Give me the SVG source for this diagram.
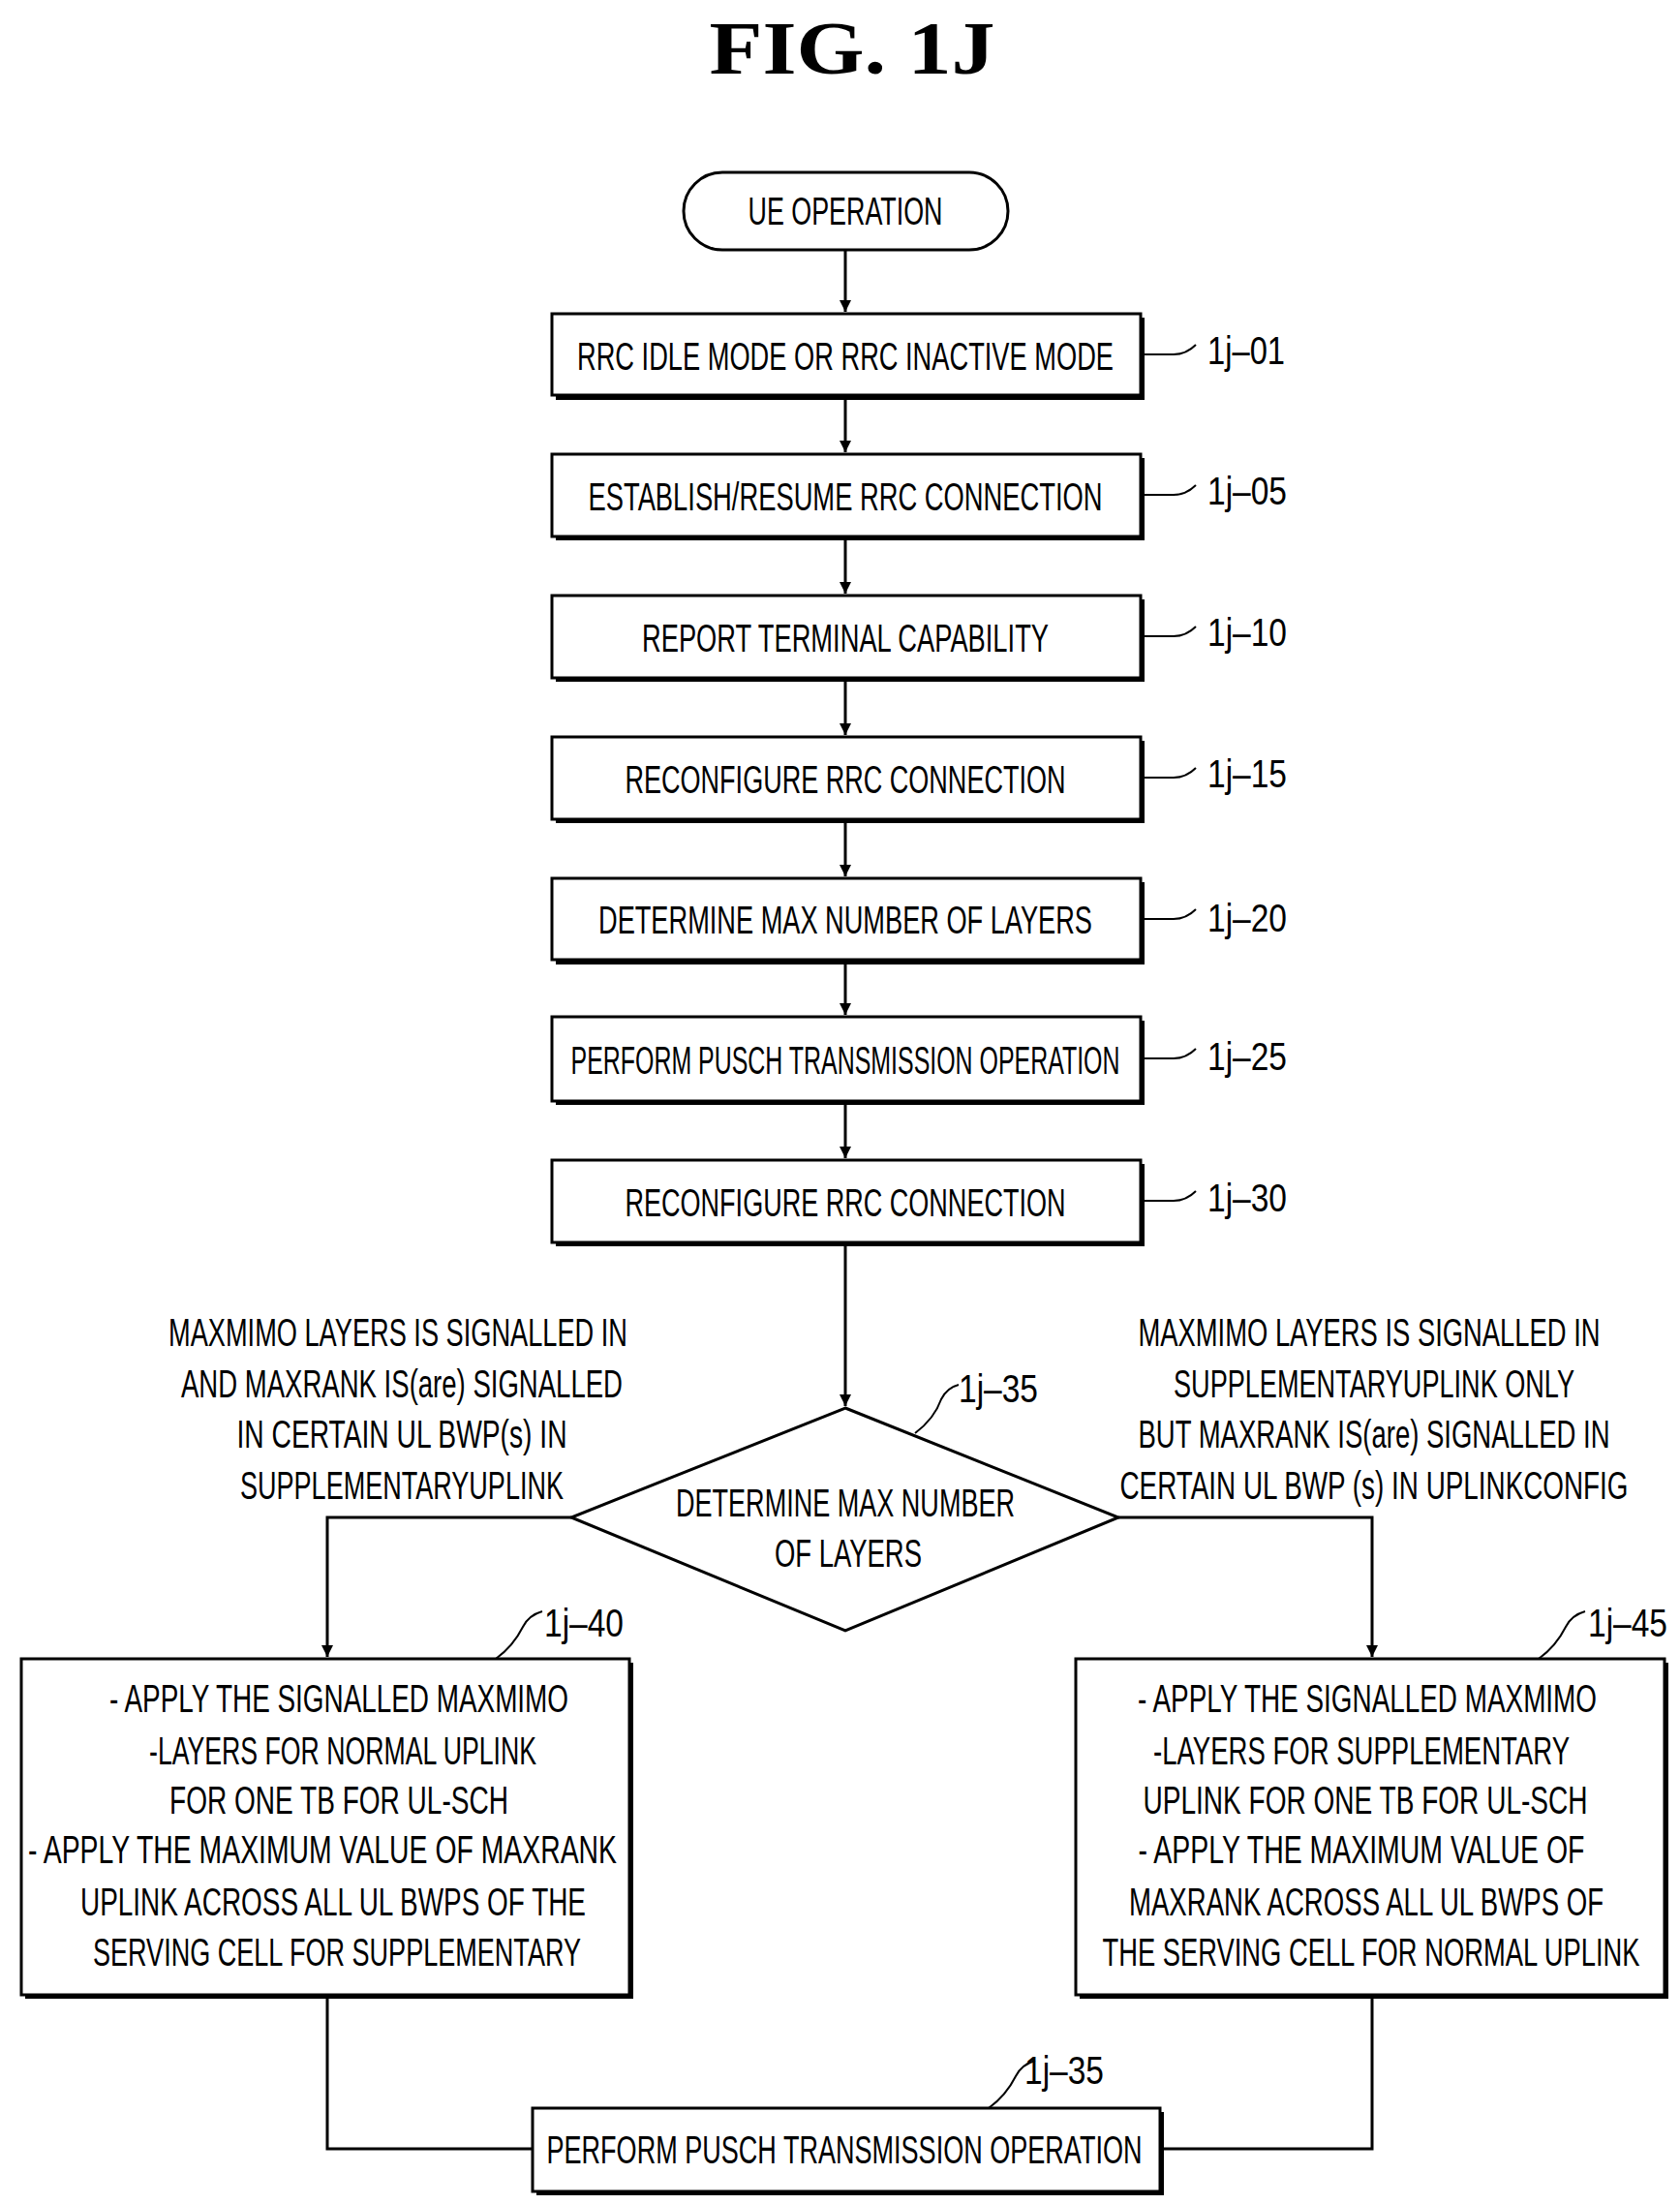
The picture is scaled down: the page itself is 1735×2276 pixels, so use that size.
<svg xmlns="http://www.w3.org/2000/svg" width="1735" height="2276" viewBox="0 0 1735 2276">
<style>
text{font-family:"Liberation Sans",Arial,sans-serif;font-size:40px;fill:#000;text-anchor:middle}
.t{font-family:"Liberation Serif","Times New Roman",serif;font-weight:bold;font-size:78px}
.lb{text-anchor:start;font-size:40px}
.box{fill:#fff;stroke:#000;stroke-width:3}
.sh{fill:#000}
.ln{fill:none;stroke:#000;stroke-width:3}
.ld{fill:none;stroke:#000;stroke-width:2}
</style>
<defs><marker id="a" markerWidth="10" markerHeight="12" refX="5" refY="12" orient="auto-start-reverse" markerUnits="userSpaceOnUse" viewBox="0 0 10 12"><path d="M0,0 L10,0 L5,12 Z" transform="rotate(0)"/></marker>
<marker id="ad" markerWidth="12" markerHeight="20" refX="12" refY="10" orient="auto" markerUnits="userSpaceOnUse"><path d="M0,4 L12,10 L0,16 Z"/></marker></defs>
<rect width="1735" height="2276" fill="#fff"/>
<text class="t" x="880" y="76" textLength="295" lengthAdjust="spacingAndGlyphs">FIG.  1J</text>
<g id="connectors">
<path class="ln" d="M873,258 V322" marker-end="url(#ad)"/>
<path class="ln" d="M873,408 V467" marker-end="url(#ad)"/>
<path class="ln" d="M873,554 V613" marker-end="url(#ad)"/>
<path class="ln" d="M873,700 V759" marker-end="url(#ad)"/>
<path class="ln" d="M873,846 V905" marker-end="url(#ad)"/>
<path class="ln" d="M873,991 V1048" marker-end="url(#ad)"/>
<path class="ln" d="M873,1137 V1196" marker-end="url(#ad)"/>
<path class="ln" d="M873,1283 V1452" marker-end="url(#ad)"/>
<path class="ln" d="M590,1567 H338 V1711" marker-end="url(#ad)"/>
<path class="ln" d="M1155,1567 H1417 V1711" marker-end="url(#ad)"/>
<path class="ln" d="M338,2060 V2219 H550"/>
<path class="ln" d="M1417,2060 V2219 H1198"/>
</g>
<g id="n0"><rect class="box" x="706" y="178" width="335" height="80" rx="40" stroke-width="3"/><text x="873" y="232" textLength="201" lengthAdjust="spacingAndGlyphs">UE OPERATION</text></g>
<g id="n1"><rect class="sh" x="574" y="328" width="608" height="85"/><rect class="box" x="570" y="324" width="608" height="84"/><text x="873" y="382" textLength="554" lengthAdjust="spacingAndGlyphs">RRC IDLE MODE OR RRC INACTIVE MODE</text>
<path class="ld" d="M1182,366 H1212 Q1225,366 1235,356"/><text class="lb" x="1247" y="376" textLength="80" lengthAdjust="spacingAndGlyphs">1j–01</text></g>
<g id="n2"><rect class="sh" x="574" y="473" width="608" height="85"/><rect class="box" x="570" y="469" width="608" height="85"/><text x="873" y="527" textLength="531" lengthAdjust="spacingAndGlyphs">ESTABLISH/RESUME RRC CONNECTION</text>
<path class="ld" d="M1182,511 H1212 Q1225,511 1235,501"/><text class="lb" x="1247" y="521" textLength="82" lengthAdjust="spacingAndGlyphs">1j–05</text></g>
<g id="n3"><rect class="sh" x="574" y="619" width="608" height="85"/><rect class="box" x="570" y="615" width="608" height="85"/><text x="873" y="673" textLength="420" lengthAdjust="spacingAndGlyphs">REPORT TERMINAL CAPABILITY</text>
<path class="ld" d="M1182,657 H1212 Q1225,657 1235,647"/><text class="lb" x="1247" y="667" textLength="82" lengthAdjust="spacingAndGlyphs">1j–10</text></g>
<g id="n4"><rect class="sh" x="574" y="765" width="608" height="85"/><rect class="box" x="570" y="761" width="608" height="85"/><text x="873" y="819" textLength="455" lengthAdjust="spacingAndGlyphs">RECONFIGURE RRC CONNECTION</text>
<path class="ld" d="M1182,803 H1212 Q1225,803 1235,793"/><text class="lb" x="1247" y="813" textLength="82" lengthAdjust="spacingAndGlyphs">1j–15</text></g>
<g id="n5"><rect class="sh" x="574" y="911" width="608" height="85"/><rect class="box" x="570" y="907" width="608" height="84"/><text x="873" y="964" textLength="510" lengthAdjust="spacingAndGlyphs">DETERMINE MAX NUMBER OF LAYERS</text>
<path class="ld" d="M1182,949 H1212 Q1225,949 1235,939"/><text class="lb" x="1247" y="962" textLength="82" lengthAdjust="spacingAndGlyphs">1j–20</text></g>
<g id="n6"><rect class="sh" x="574" y="1054" width="608" height="87"/><rect class="box" x="570" y="1050" width="608" height="87"/><text x="873" y="1109" textLength="567" lengthAdjust="spacingAndGlyphs">PERFORM PUSCH TRANSMISSION OPERATION</text>
<path class="ld" d="M1182,1093 H1212 Q1225,1093 1235,1083"/><text class="lb" x="1247" y="1105" textLength="82" lengthAdjust="spacingAndGlyphs">1j–25</text></g>
<g id="n7"><rect class="sh" x="574" y="1202" width="608" height="85"/><rect class="box" x="570" y="1198" width="608" height="85"/><text x="873" y="1256" textLength="455" lengthAdjust="spacingAndGlyphs">RECONFIGURE RRC CONNECTION</text>
<path class="ld" d="M1182,1240 H1212 Q1225,1240 1235,1230"/><text class="lb" x="1247" y="1251" textLength="82" lengthAdjust="spacingAndGlyphs">1j–30</text></g>
<g id="cond-left">
<text x="411" y="1390" textLength="474" lengthAdjust="spacingAndGlyphs">MAXMIMO LAYERS IS SIGNALLED IN</text>
<text x="415" y="1443" textLength="456" lengthAdjust="spacingAndGlyphs">AND MAXRANK IS(are) SIGNALLED</text>
<text x="415" y="1495" textLength="341" lengthAdjust="spacingAndGlyphs">IN CERTAIN UL BWP(s) IN</text>
<text x="415" y="1548" textLength="334" lengthAdjust="spacingAndGlyphs">SUPPLEMENTARYUPLINK</text>
</g>
<g id="cond-right">
<text x="1414" y="1390" textLength="477" lengthAdjust="spacingAndGlyphs">MAXMIMO LAYERS IS SIGNALLED IN</text>
<text x="1419" y="1443" textLength="414" lengthAdjust="spacingAndGlyphs">SUPPLEMENTARYUPLINK ONLY</text>
<text x="1419" y="1495" textLength="487" lengthAdjust="spacingAndGlyphs">BUT MAXRANK IS(are) SIGNALLED IN</text>
<text x="1419" y="1548" textLength="525" lengthAdjust="spacingAndGlyphs">CERTAIN UL BWP (s) IN UPLINKCONFIG</text>
</g>
<g id="n8"><polygon class="box" points="873,1454 1155,1567 873,1684 590,1567"/>
<text x="873" y="1566" textLength="350" lengthAdjust="spacingAndGlyphs">DETERMINE MAX NUMBER</text>
<text x="876" y="1618" textLength="152" lengthAdjust="spacingAndGlyphs">OF LAYERS</text>
<path class="ld" d="M945,1480 Q965,1465 972,1445 Q978,1433 990,1430"/><text class="lb" x="990" y="1448" textLength="82" lengthAdjust="spacingAndGlyphs">1j–35</text></g>
<g id="n9"><rect class="sh" x="26" y="1717" width="628" height="347"/><rect class="box" x="22" y="1713" width="628" height="347"/>
<text x="350" y="1768" textLength="474" lengthAdjust="spacingAndGlyphs">- APPLY THE SIGNALLED MAXMIMO</text>
<text x="354" y="1822" textLength="400" lengthAdjust="spacingAndGlyphs">-LAYERS FOR NORMAL UPLINK</text>
<text x="350" y="1873" textLength="350" lengthAdjust="spacingAndGlyphs">FOR ONE TB FOR UL-SCH</text>
<text x="333" y="1924" textLength="608" lengthAdjust="spacingAndGlyphs">- APPLY THE MAXIMUM VALUE OF MAXRANK</text>
<text x="344" y="1978" textLength="522" lengthAdjust="spacingAndGlyphs">UPLINK ACROSS ALL UL BWPS OF THE</text>
<text x="348" y="2030" textLength="504" lengthAdjust="spacingAndGlyphs">SERVING CELL FOR SUPPLEMENTARY</text>
<path class="ld" d="M512,1713 Q530,1700 540,1680 Q546,1668 560,1664"/><text class="lb" x="562" y="1690" textLength="82" lengthAdjust="spacingAndGlyphs">1j–40</text></g>
<g id="n10"><rect class="sh" x="1115" y="1717" width="608" height="347"/><rect class="box" x="1111" y="1713" width="608" height="347"/>
<text x="1412" y="1768" textLength="474" lengthAdjust="spacingAndGlyphs">- APPLY THE SIGNALLED MAXMIMO</text>
<text x="1406" y="1822" textLength="430" lengthAdjust="spacingAndGlyphs">-LAYERS FOR SUPPLEMENTARY</text>
<text x="1410" y="1873" textLength="459" lengthAdjust="spacingAndGlyphs">UPLINK FOR ONE TB FOR UL-SCH</text>
<text x="1406" y="1924" textLength="461" lengthAdjust="spacingAndGlyphs">- APPLY THE MAXIMUM VALUE OF</text>
<text x="1411" y="1978" textLength="490" lengthAdjust="spacingAndGlyphs">MAXRANK ACROSS ALL UL BWPS OF</text>
<text x="1416" y="2030" textLength="555" lengthAdjust="spacingAndGlyphs">THE SERVING CELL FOR NORMAL UPLINK</text>
<path class="ld" d="M1589,1713 Q1607,1700 1617,1680 Q1623,1668 1637,1664"/><text class="lb" x="1640" y="1690" textLength="82" lengthAdjust="spacingAndGlyphs">1j–45</text></g>
<g id="n11"><rect class="sh" x="554" y="2181" width="648" height="86"/><rect class="box" x="550" y="2177" width="648" height="86"/>
<text x="872" y="2234" textLength="615" lengthAdjust="spacingAndGlyphs">PERFORM PUSCH TRANSMISSION OPERATION</text>
<path class="ld" d="M1021,2177 Q1039,2164 1049,2144 Q1055,2132 1069,2128"/><text class="lb" x="1058" y="2152" textLength="82" lengthAdjust="spacingAndGlyphs">1j–35</text></g>
</svg>
